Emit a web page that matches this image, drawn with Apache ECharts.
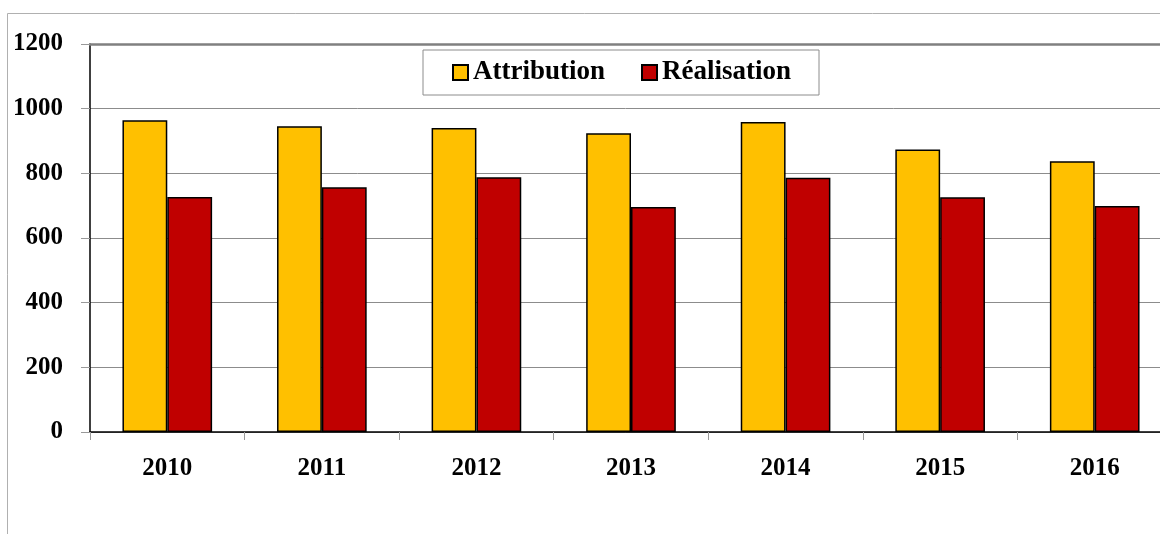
<!DOCTYPE html>
<html>
<head>
<meta charset="utf-8">
<script src="https://cdn.jsdelivr.net/npm/echarts@6/dist/echarts.min.js"></script>
<style>
  html, body { margin: 0; padding: 0; background: #ffffff; overflow: hidden; }
  #chart { width: 1160px; height: 534px; }
</style>
</head>
<body>
<div id="chart"></div>
<script>
// Yearly amounts: allocated (Attribution) vs. carried out (Réalisation)
const years = ['2010', '2011', '2012', '2013', '2014', '2015', '2016'];
const attribution = [964, 946, 940, 924, 959, 874, 837];
const realisation = [727, 757, 788, 696, 786, 726, 699];
const yTicks = { min: 0, max: 1200, interval: 200 };

const FONT = '"Liberation Serif", "DejaVu Serif", serif';
const chart = echarts.init(document.getElementById('chart'), null, { renderer: 'canvas' });

chart.setOption({
  backgroundColor: '#ffffff',
  animation: false,
  // light frame around the whole chart area
  graphic: [{
    type: 'rect',
    silent: true,
    shape: { x: 7.5, y: 13.5, width: 1200, height: 600 },
    style: { fill: 'none', stroke: '#b0b0b0', lineWidth: 1 }
  }],
  // plot area runs slightly past the right edge of the page
  grid: {
    left: 90, top: 44, width: 1082, height: 388,
    containLabel: false,
    outerBoundsMode: 'none'
  },
  legend: {
    data: ['Attribution', 'Réalisation'],
    left: 423,
    top: 50,
    padding: [9, 28, 9, 29],
    itemGap: 36,
    itemWidth: 15,
    itemHeight: 15,
    icon: 'rect',
    borderColor: '#8c8c8c',
    borderWidth: 1,
    backgroundColor: '#ffffff',
    textStyle: { fontFamily: FONT, fontWeight: 'bold', fontSize: 27, color: '#000' }
  },
  xAxis: [{
    type: 'category',
    data: years,
    axisLine: { lineStyle: { color: '#000', width: 1.5 } },
    axisTick: { show: true, length: 8, lineStyle: { color: '#999' } },
    axisLabel: { fontFamily: FONT, fontWeight: 'bold', fontSize: 25, color: '#000', margin: 24 },
    splitLine: { show: false }
  }, {
    // top edge of the plot area
    type: 'category',
    data: years,
    position: 'top',
    axisLine: { lineStyle: { color: '#808080', width: 2.5 } },
    axisTick: { show: false },
    axisLabel: { show: false }
  }],
  yAxis: {
    type: 'value',
    min: yTicks.min,
    max: yTicks.max,
    interval: yTicks.interval,
    axisLine: { show: true, lineStyle: { color: '#000', width: 1.5 } },
    axisTick: { show: true, length: 9, lineStyle: { color: '#999' } },
    axisLabel: {
      fontFamily: FONT, fontWeight: 'bold', fontSize: 25, color: '#000', margin: 27,
      formatter: v => String(v)
    },
    splitLine: { show: true, lineStyle: { color: '#8c8c8c', width: 1 } }
  },
  series: [{
    name: 'Attribution',
    type: 'bar',
    data: attribution,
    barGap: '0%',
    barCategoryGap: '42%',
    itemStyle: { color: '#FFC000', borderColor: '#000', borderWidth: 1.5 }
  }, {
    name: 'Réalisation',
    type: 'bar',
    data: realisation,
    barGap: '0%',
    barCategoryGap: '42%',
    itemStyle: { color: '#C00000', borderColor: '#000', borderWidth: 1.5 }
  }]
});
</script>
</body>
</html>
